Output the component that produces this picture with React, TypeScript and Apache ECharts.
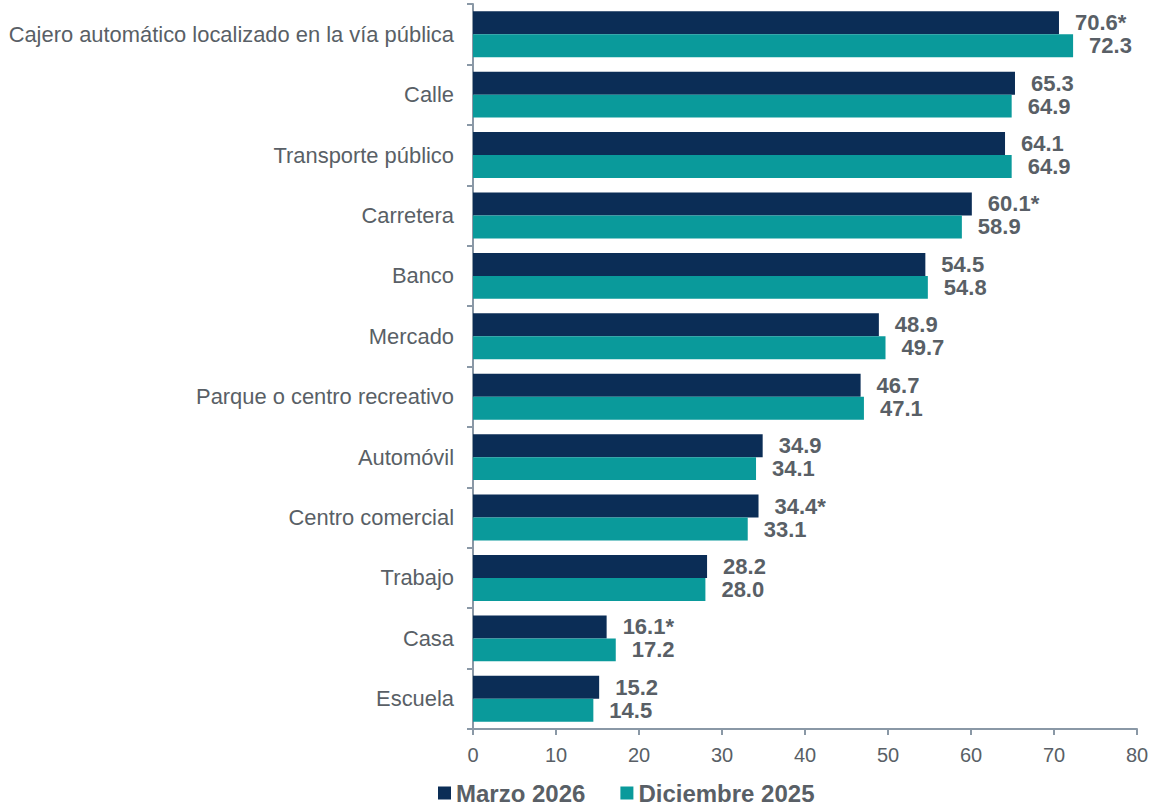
import React, { useEffect, useRef } from "react";
import * as echarts from "echarts";

const categories = [
  "Cajero automático localizado en la vía pública",
  "Calle",
  "Transporte público",
  "Carretera",
  "Banco",
  "Mercado",
  "Parque o centro recreativo",
  "Automóvil",
  "Centro comercial",
  "Trabajo",
  "Casa",
  "Escuela",
];
const marzo2026 = [70.6, 65.3, 64.1, 60.1, 54.5, 48.9, 46.7, 34.9, 34.4, 28.2, 16.1, 15.2];
const marzoSignificant = [true, false, false, true, false, false, false, false, true, false, true, false];
const diciembre2025 = [72.3, 64.9, 64.9, 58.9, 54.8, 49.7, 47.1, 34.1, 33.1, 28.0, 17.2, 14.5];
const xTicks = [0, 10, 20, 30, 40, 50, 60, 70, 80];

const FONT = "'Liberation Sans', Arial, sans-serif";
const AXIS_COLOR = "#8a98a6";
const TEXT_COLOR = "#595f66";

export default function App() {
  const ref = useRef<HTMLDivElement>(null);
  useEffect(() => {
    if (!ref.current) return;
    const chart = echarts.init(ref.current, undefined, { renderer: "svg" });
    const labelStyle = {
      show: true,
      position: "right" as const,
      distance: 16,
      fontFamily: FONT,
      fontSize: 22,
      fontWeight: "bold" as const,
      color: TEXT_COLOR,
    };
    chart.setOption({
      animation: false,
      textStyle: { fontFamily: FONT },
      grid: { left: 473, right: 19, top: 4, bottom: 77, containLabel: false },
      legend: {
        top: 781,
        left: 438,
        padding: 0,
        itemWidth: 13,
        itemHeight: 13,
        itemGap: 35,
        icon: "rect",
        textStyle: { fontFamily: FONT, fontSize: 24, lineHeight: 24, fontWeight: "bold", color: TEXT_COLOR },
        data: ["Marzo 2026", "Diciembre 2025"],
      },
      xAxis: {
        type: "value",
        min: xTicks[0],
        max: xTicks[xTicks.length - 1],
        interval: 10,
        splitLine: { show: false },
        axisLine: { show: true, lineStyle: { color: AXIS_COLOR, width: 2 } },
        axisTick: { show: true, length: 6, lineStyle: { color: AXIS_COLOR, width: 2 } },
        axisLabel: { fontFamily: FONT, fontSize: 20, color: TEXT_COLOR, margin: 16 },
      },
      yAxis: {
        type: "category",
        inverse: true,
        data: categories,
        axisLine: { show: true, lineStyle: { color: AXIS_COLOR, width: 2 } },
        axisTick: { show: true, length: 6, alignWithLabel: false, lineStyle: { color: AXIS_COLOR, width: 2 } },
        axisLabel: { fontFamily: FONT, fontSize: 21.9, color: TEXT_COLOR, margin: 19 },
      },
      series: [
        {
          name: "Marzo 2026",
          type: "bar",
          data: marzo2026,
          itemStyle: { color: "#0b2d56" },
          barGap: "0%",
          barCategoryGap: "24%",
          label: {
            ...labelStyle,
            formatter: (p: any) => p.value.toFixed(1) + (marzoSignificant[p.dataIndex] ? "*" : ""),
          },
        },
        {
          name: "Diciembre 2025",
          type: "bar",
          data: diciembre2025,
          itemStyle: { color: "#0a9a9b" },
          barGap: "0%",
          barCategoryGap: "24%",
          label: {
            ...labelStyle,
            formatter: (p: any) => p.value.toFixed(1),
          },
        },
      ],
    });
    return () => chart.dispose();
  }, []);
  return <div ref={ref} style={{ position: "absolute", left: 0, top: 0, width: 1156, height: 806 }} />;
}
